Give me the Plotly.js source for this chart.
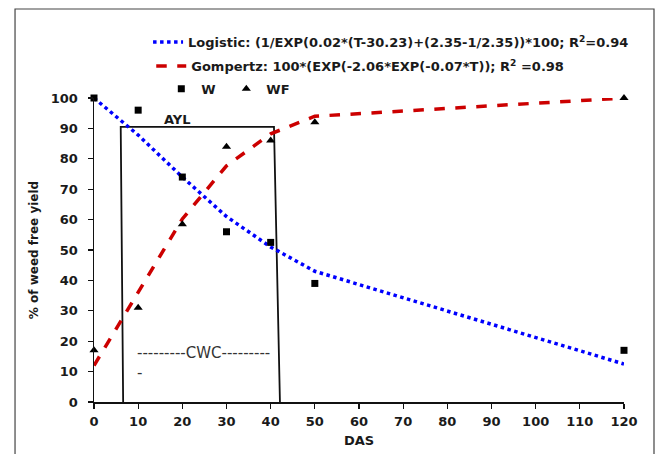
<!DOCTYPE html>
<html>
<head>
<meta charset="utf-8">
<script src="https://cdn.plot.ly/plotly-3.0.1.min.js"></script>
<style>
  html, body { margin: 0; padding: 0; background: #fff; }
  #chart { width: 657px; height: 454px; }
</style>
</head>
<body>
<div id="chart"></div>
<script>
// ---- data ----
const das = [0, 10, 20, 30, 40, 50, 120];
const wYield = [100, 96, 74, 56, 52.5, 39, 17];
const wfYield = [17, 31, 58.5, 84, 86, 92, 100];
const logisticFit = [100, 87.8, 74, 61, 51, 43, 12.5];
const gompertzFit = [12, 35.9, 60.2, 77.7, 88.2, 94.0, 100];

// critical period box (AYL / CWC), drawn in data units
const boxX = [6.6, 6.05, 40.75, 42.1];
const boxY = [0, 90.5, 90.5, 0];

const xTicks = [0, 10, 20, 30, 40, 50, 60, 70, 80, 90, 100, 110, 120];
const yTicks = [0, 10, 20, 30, 40, 50, 60, 70, 80, 90, 100];

const logisticName = "Logistic: (1/EXP(0.02*(T-30.23)+(2.35-1/2.35))*100; R<sup>2</sup>=0.94";
const gompertzName = "Gompertz: 100*(EXP(-2.06*EXP(-0.07*T)); R<sup>2</sup> =0.98";

const FONT = "DejaVu Sans, Verdana, sans-serif";
const TXT = "#1a1a1a";

const traces = [
  {
    x: boxX, y: boxY, mode: "lines", type: "scatter",
    line: { color: "#111", width: 1.8 },
    showlegend: false, hoverinfo: "skip", cliponaxis: false
  },
  {
    x: das, y: logisticFit, mode: "lines", type: "scatter", name: logisticName,
    line: { color: "#0000ff", width: 3.5, dash: "dot" },
    legend: "legend", cliponaxis: false
  },
  {
    x: das, y: gompertzFit, mode: "lines", type: "scatter", name: gompertzName,
    line: { color: "#cc0000", width: 3.5, dash: "dash" },
    legend: "legend2", cliponaxis: false
  },
  {
    x: das, y: wYield, mode: "markers", type: "scatter", name: "W",
    marker: { symbol: "square", color: "#000", size: 7 },
    legend: "legend3", cliponaxis: false
  },
  {
    x: das, y: wfYield, mode: "markers", type: "scatter", name: "WF",
    marker: { symbol: "triangle-up", color: "#000", size: 8 },
    legend: "legend3", cliponaxis: false
  }
];

const legendBase = {
  xanchor: "left", yanchor: "middle",
  bgcolor: "rgba(0,0,0,0)", borderwidth: 0,
  font: { family: FONT, size: 13, color: TXT, weight: "bold" }
};

const layout = {
  width: 657, height: 454,
  margin: { l: 94, r: 33, t: 98, b: 52, autoexpand: false },
  paper_bgcolor: "#fff", plot_bgcolor: "#fff",
  font: { family: FONT, color: TXT },
  xaxis: {
    range: [0, 120], tickvals: xTicks, ticktext: xTicks.map(String),
    showgrid: false, zeroline: false, tickangle: 0, automargin: false,
    showline: true, linecolor: "#111", linewidth: 1.5,
    ticks: "outside", ticklen: 5, tickcolor: "#111", tickwidth: 1.3,
    ticklabelstandoff: 2,
    tickfont: { family: FONT, size: 13, color: TXT, weight: "bold" },
    title: { text: "DAS", font: { family: FONT, size: 13, color: TXT, weight: "bold" }, standoff: 8 }
  },
  yaxis: {
    range: [0, 100], tickvals: yTicks, ticktext: yTicks.map(String),
    showgrid: false, zeroline: false, automargin: false,
    showline: true, linecolor: "#111", linewidth: 1.5,
    ticks: "outside", ticklen: 5, tickcolor: "#111", tickwidth: 1.3,
    ticklabelstandoff: 7,
    tickfont: { family: FONT, size: 13, color: TXT, weight: "bold" },
    title: { text: "% of weed free yield", font: { family: FONT, size: 12, color: TXT, weight: "bold" }, standoff: 9 }
  },
  legend: Object.assign({}, legendBase, { x: 0.102, y: 1.184 }),
  legend2: Object.assign({}, legendBase, { x: 0.108, y: 1.105 }),
  legend3: Object.assign({}, legendBase, { x: 0.127, y: 1.03, orientation: "h", entrywidth: 20 }),
  shapes: [
    {
      type: "rect", xref: "paper", yref: "paper",
      x0: -0.149, x1: 1.0566, y0: -0.2, y1: 1.2928,
      line: { color: "#444", width: 1.2 }, fillcolor: "rgba(0,0,0,0)", layer: "below"
    }
  ],
  annotations: [
    {
      x: 18.8, y: 92.8, xref: "x", yref: "y", text: "AYL", showarrow: false,
      font: { family: FONT, size: 13, color: TXT, weight: "bold" }
    },
    {
      x: 9.2, y: 12.8, xref: "x", yref: "y", xanchor: "left", align: "left",
      text: "---------CWC---------<br>-", showarrow: false,
      font: { family: FONT, size: 15, color: "#333" }
    }
  ],
  showlegend: true
};

Plotly.newPlot("chart", traces, layout, { staticPlot: true, displayModeBar: false });
</script>
</body>
</html>
